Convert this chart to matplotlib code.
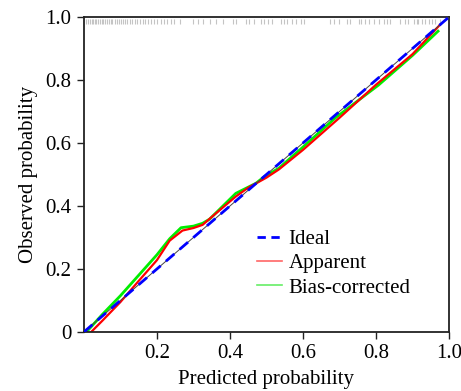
import matplotlib
matplotlib.use("Agg")
import matplotlib.pyplot as plt
from matplotlib.lines import Line2D

plt.rcParams['font.family'] = ['Liberation Serif', 'DejaVu Serif']

# Data
apparent_x = [0.02, 0.05, 0.10, 0.15, 0.20, 0.235, 0.27, 0.30, 0.325, 0.36, 0.416, 0.45, 0.50, 0.534, 0.60, 0.70, 0.80, 0.90, 0.975]
apparent_y = [0.00, 0.035, 0.095, 0.162, 0.228, 0.290, 0.322, 0.330, 0.340, 0.375, 0.430, 0.458, 0.490, 0.516, 0.578, 0.680, 0.785, 0.882, 0.975]
bias_x = [0.007, 0.05, 0.10, 0.15, 0.20, 0.235, 0.266, 0.30, 0.325, 0.344, 0.416, 0.471, 0.494, 0.534, 0.598, 0.689, 0.807, 0.90, 0.97]
bias_y = [0.00, 0.055, 0.115, 0.180, 0.245, 0.296, 0.331, 0.336, 0.345, 0.358, 0.440, 0.472, 0.493, 0.520, 0.585, 0.680, 0.784, 0.878, 0.955]
ideal_x = [0.0, 1.0]
ideal_y = [0.0, 1.0]
rug_x = [0.007, 0.012, 0.016, 0.021, 0.025, 0.030, 0.034, 0.039, 0.044, 0.049, 0.053, 0.058,
         0.063, 0.068, 0.073, 0.078, 0.084, 0.090, 0.096, 0.101, 0.107, 0.113, 0.119, 0.126,
         0.132, 0.139, 0.146, 0.153, 0.161, 0.168, 0.176, 0.184, 0.193, 0.201, 0.210, 0.219,
         0.228, 0.238, 0.248, 0.262, 0.298, 0.312, 0.325, 0.344, 0.362, 0.380, 0.407, 0.416,
         0.444, 0.453, 0.466, 0.485, 0.494, 0.503, 0.516, 0.539, 0.548, 0.557, 0.571, 0.580,
         0.594, 0.603, 0.675, 0.684, 0.698, 0.721, 0.730, 0.753, 0.758, 0.771, 0.780, 0.794,
         0.807, 0.821, 0.830, 0.839, 0.866, 0.880, 0.889, 0.903, 0.912, 0.916, 0.925, 0.935,
         0.944, 0.953, 0.962, 0.975]
x_ticks = [0.2, 0.4, 0.6, 0.8, 1.0]
x_ticklabels = ["0.2", "0.4", "0.6", "0.8", "1.0"]
y_ticks = [0.0, 0.2, 0.4, 0.6, 0.8, 1.0]
y_ticklabels = ["0", "0.2", "0.4", "0.6", "0.8", "1.0"]
legend_labels = ['Ideal', 'Apparent', 'Bias-corrected']

fig = plt.figure(figsize=(4.61, 3.91), dpi=100)
ax = fig.add_axes([0.182, 0.151, 0.792, 0.8055])

ax.vlines(rug_x, 0.977, 0.993, colors='#c4c4c4', linewidth=0.8, zorder=1)

ax.plot(ideal_x, ideal_y, color='#444444', linewidth=0.7, zorder=3)
ax.plot(bias_x, bias_y, color='#00ee00', linewidth=2.0, zorder=2)
ax.plot(apparent_x, apparent_y, color='#ff0000', linewidth=1.6, zorder=2.5)
ax.plot(ideal_x, ideal_y, color='#0000ff', linewidth=2.0, linestyle=(0, (4, 2.5)), zorder=4)

leg_handles = [
    Line2D([], [], color='#0000ff', linewidth=2.0, linestyle=(0, (3, 2))),
    Line2D([], [], color='#ff6666', linewidth=1.2),
    Line2D([], [], color='#66ee66', linewidth=1.2),
]
ax.legend(leg_handles, legend_labels, loc='upper left',
          bbox_to_anchor=(0.475, 0.325), frameon=False, fontsize=15,
          handlelength=1.2, handletextpad=0.3, labelspacing=0.22,
          borderpad=0, borderaxespad=0)

ax.set_xlim(0, 1)
ax.set_ylim(0, 1)
ax.set_xticks(x_ticks)
ax.set_xticklabels(x_ticklabels)
ax.set_yticks(y_ticks)
ax.set_yticklabels(y_ticklabels)
ax.tick_params(direction='out', length=5, width=1.0, labelsize=15, pad=4, color='#222222')
for s in ax.spines.values():
    s.set_linewidth(1.3)
    s.set_color('#222222')

ax.set_xlabel('Predicted probability', fontsize=15, labelpad=5)
ax.set_ylabel('Observed probability', fontsize=15, labelpad=5)

fig.savefig('out.png', dpi=100)
